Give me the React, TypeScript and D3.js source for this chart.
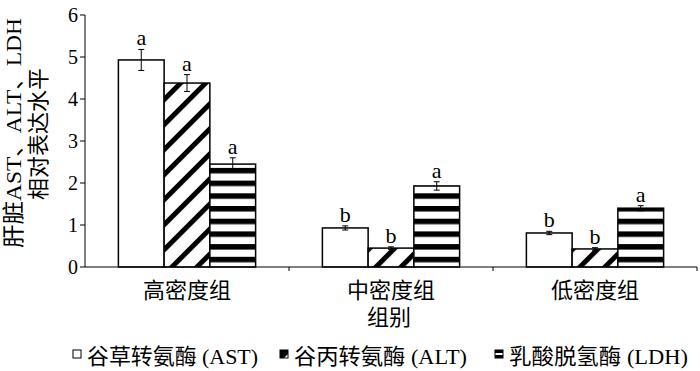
import React from 'react';
import {scaleBand, scaleLinear} from 'd3';

const groups = ['高密度组', '中密度组', '低密度组'];
const series = ['AST', 'ALT', 'LDH'];
const legendNames = ['谷草转氨酶 (AST)', '谷丙转氨酶 (ALT)', '乳酸脱氢酶 (LDH)'];
const astVals = [4.93, 0.93, 0.81];
const altVals = [4.38, 0.45, 0.43];
const ldhVals = [2.45, 1.93, 1.40];
const astErr = [0.25, 0.05, 0.04];
const altErr = [0.2, 0.03, 0.03];
const ldhErr = [0.15, 0.1, 0.06];
const astSig = ['a', 'b', 'b'];
const altSig = ['a', 'b', 'b'];
const ldhSig = ['a', 'a', 'a'];
const yTicks = [0, 1, 2, 3, 4, 5, 6];

const W = 700, H = 371;
const left = 85, right = 697, top = 15, bottom = 267;
const FONT = '"Liberation Serif", "Noto Sans CJK SC", serif';

const fills = ['#fff', 'url(#diag)', 'url(#horiz)'];

const App = (): JSX.Element => {
    const x0 = scaleBand().domain(groups).range([left, right]).padding(0);
    const x1 = scaleBand().domain(series).range([0, x0.bandwidth()]).paddingInner(0).paddingOuter(0.73);
    const y = scaleLinear().domain([0, 6]).range([bottom, top]);

    const vals = [astVals, altVals, ldhVals];
    const errs = [astErr, altErr, ldhErr];
    const sigs = [astSig, altSig, ldhSig];

    // legend item positions
    const legendX = [73, 280, 495];
    const legendW = [185, 187, 193];

    return (
        <svg width={W} height={H} style={{position: 'absolute', left: 0, top: 0, background: '#fff'}}
             fontFamily={FONT}>
            <defs>
                <pattern id="diag" patternUnits="userSpaceOnUse" width={17.7} height={17.7}
                         patternTransform="rotate(45)">
                    <rect width={17.7} height={17.7} fill="#fff"/>
                    <rect x={0} width={5} height={17.7} fill="#000"/>
                </pattern>
                <pattern id="horiz" patternUnits="userSpaceOnUse" width={10} height={12.7} y={206}>
                    <rect width={10} height={12.7} fill="#fff"/>
                    <rect y={0} width={10} height={5.5} fill="#000"/>
                </pattern>
            </defs>

            {/* bars */}
            {groups.map((g, gi) => (
                <g key={g} transform={`translate(${x0(g)},0)`}>
                    {series.map((s, si) => {
                        const v = vals[si][gi];
                        const e = errs[si][gi];
                        const bx = x1(s) as number;
                        const bw = x1.bandwidth();
                        const cx = bx + bw / 2;
                        return (
                            <g key={s}>
                                <rect x={bx} y={y(v)} width={bw} height={bottom - y(v)}
                                      fill={fills[si]} stroke="#000" strokeWidth={1.5}/>
                                <line x1={cx} x2={cx} y1={y(v + e)} y2={y(v - e)} stroke="#000" strokeWidth={1}/>
                                <line x1={cx - 3} x2={cx + 3} y1={y(v + e)} y2={y(v + e)} stroke="#000"/>
                                <line x1={cx - 3} x2={cx + 3} y1={y(v - e)} y2={y(v - e)} stroke="#000"/>
                                <text x={cx} y={y(v + e) - 4} textAnchor="middle" fontSize={22}>{sigs[si][gi]}</text>
                            </g>
                        );
                    })}
                </g>
            ))}

            {/* y axis */}
            <line x1={left} x2={left} y1={top} y2={bottom} stroke="#000" strokeWidth={1}/>
            {yTicks.map(t => (
                <g key={t}>
                    <line x1={left - 5} x2={left} y1={y(t)} y2={y(t)} stroke="#000"/>
                    <text x={left - 7} y={y(t)} textAnchor="end" dominantBaseline="central" fontSize={20}>{t}</text>
                </g>
            ))}

            {/* x axis */}
            <line x1={left} x2={right} y1={bottom} y2={bottom} stroke="#000" strokeWidth={1}/>
            {groups.map(g => {
                const xe = (x0(g) as number) + x0.bandwidth();
                return <line key={g} x1={xe} x2={xe} y1={bottom} y2={bottom + 4} stroke="#000"/>;
            })}
            {groups.map(g => (
                <text key={g} x={(x0(g) as number) + x0.bandwidth() / 2} y={290} textAnchor="middle"
                      dominantBaseline="central" fontSize={22}>{g}</text>
            ))}
            <text x={389} y={317} textAnchor="middle" dominantBaseline="central" fontSize={22}>组别</text>

            {/* y title */}
            <g transform="translate(13,133) rotate(-90)">
                <text x={0} y={0} textAnchor="middle" dominantBaseline="central" fontSize={22}
                      textLength={230} lengthAdjust="spacingAndGlyphs">肝脏AST、ALT、LDH</text>
            </g>
            <g transform="translate(38,134) rotate(-90)">
                <text x={0} y={0} textAnchor="middle" dominantBaseline="central" fontSize={22}>相对表达水平</text>
            </g>

            {/* legend */}
            {legendNames.map((n, i) => (
                <g key={n} transform={`translate(${legendX[i]},0)`}>
                    <rect x={0} y={350} width={8} height={8} fill="#fff" stroke="#000" strokeWidth={1}/>
                    {i === 1 && <polygon points="0,350 8,350 8,354 4,358 0,358" fill="#000"/>}
                    {i === 2 && <>
                        <rect x={0} y={350} width={8} height={3} fill="#000"/>
                        <rect x={0} y={355} width={8} height={3} fill="#000"/>
                    </>}
                    <text x={14} y={356} dominantBaseline="central" fontSize={22}
                          textLength={legendW[i] - 14} lengthAdjust="spacingAndGlyphs">{n}</text>
                </g>
            ))}
        </svg>
    );
};

export default App;
